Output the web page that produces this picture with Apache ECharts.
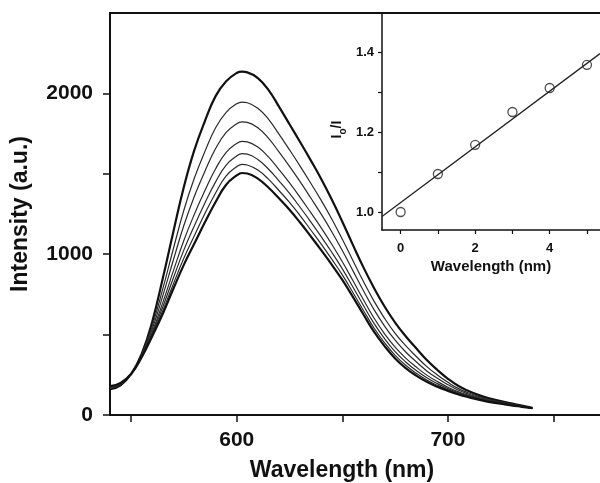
<!DOCTYPE html>
<html>
<head>
<meta charset="utf-8">
<script src="https://cdn.jsdelivr.net/npm/echarts@6/dist/echarts.min.js"></script>
<style>
html,body{margin:0;padding:0;background:#fff;}
#chart{width:600px;height:483px;}
</style>
</head>
<body>
<div id="chart"></div>
<script>
// Main spectra: wavelength (nm) and intensity (a.u.) for 7 curves
const wavelengths = [540,545,550,555,560,565,570,575,580,585,590,595,600,602.5,605,610,615,620,625,630,635,640,645,650,655,660,665,670,675,680,685,690,695,700,705,710,715,720,725,730,735,740];
const curve1 = [160,185,255,380,580,850,1140,1420,1650,1830,1983,2075,2127,2135,2131,2095,2022,1918,1808,1698,1585,1468,1340,1202,1058,918,790,675,575,490,415,342,280,225,180,148,122,102,86,72,58,44];
const curve2 = [166,190,255,374,553,784,1034,1275,1475,1641,1786,1882,1936,1946,1942,1908,1840,1747,1649,1548,1443,1335,1219,1093,961,830,708,601,508,431,364,301,249,203,164,137,114,95,81,68,56,43];
const curve3 = [170,192,255,370,535,741,964,1180,1362,1518,1657,1757,1812,1823,1820,1786,1722,1636,1546,1451,1351,1249,1140,1023,898,773,655,553,465,392,331,274,228,188,154,129,108,91,78,66,55,43];
const curve4 = [174,195,255,366,518,699,896,1087,1250,1397,1531,1633,1689,1702,1699,1666,1605,1526,1443,1354,1260,1164,1062,953,836,717,603,505,422,354,298,248,208,173,144,122,103,87,75,64,53,43];
const curve5 = [176,197,255,364,507,672,852,1027,1179,1320,1450,1554,1611,1625,1622,1589,1530,1456,1378,1292,1202,1109,1012,909,796,681,570,475,394,330,277,232,195,164,138,117,99,84,73,62,52,43];
const curve6 = [178,199,255,362,498,649,815,976,1117,1254,1381,1487,1544,1559,1555,1523,1467,1396,1322,1240,1152,1063,969,871,762,650,541,449,371,309,259,217,184,156,132,113,96,82,71,61,52,43];
const curve7 = [180,200,255,360,490,630,785,935,1068,1200,1325,1432,1490,1505,1502,1470,1415,1348,1277,1197,1112,1025,935,840,735,625,518,428,352,292,245,206,175,150,128,110,94,80,70,60,51,42];
const curveWidths = [2.2,1.2,1.2,1.2,1.2,1.2,2.2];

// Main axis ticks / labels
const mainXTicks = [550,600,650,700,750];
const mainXLabels = [600,700];
const mainYTicks = [0,500,1000,1500,2000];
const mainYLabels = [0,1000,2000];

// Inset: I0/I data and linear fit
const insetX = [0,1,2,3,4,5];
const insetY = [1.0,1.095,1.168,1.25,1.31,1.368];
const fitX = [-0.5,5.35];
const fitY = [0.989,1.396];
const insetXTicks = [0,1,2,3,4,5];
const insetXLabels = [0,2,4];
const insetYTicks = [1.0,1.1,1.2,1.3,1.4];
const insetYLabels = [1.0,1.2,1.4];

const FONT = "'Liberation Sans', Arial, sans-serif";
const INK = '#111';

const curves = [curve1,curve2,curve3,curve4,curve5,curve6,curve7];
const pairs = arr => wavelengths.map((w,i)=>[w,arr[i]]);

const series = curves.map((c,i)=>({
  type:'line', xAxisIndex:0, yAxisIndex:0, data:pairs(c),
  showSymbol:false, smooth:0.45,
  lineStyle:{color: i===0||i===6 ? '#111' : '#2a2a2a', width:curveWidths[i]},
  z:2
}));
series.push({
  type:'line', xAxisIndex:2, yAxisIndex:1,
  data: fitX.map((x,i)=>[x,fitY[i]]),
  showSymbol:false, lineStyle:{color:'#222', width:1.3}, z:3
});
series.push({
  type:'scatter', xAxisIndex:2, yAxisIndex:1,
  data: insetX.map((x,i)=>[x,insetY[i]]),
  symbol:'circle', symbolSize:9,
  itemStyle:{color:'rgba(255,255,255,0)', borderColor:'#222', borderWidth:1.3}, z:4
});

const option = {
  animation:false,
  backgroundColor:'#fff',
  grid:[
    {left:110, top:13, right:0, bottom:68, containLabel:false, outerBoundsMode:'none'},
    {left:382, top:13, right:0, bottom:253, containLabel:false, outerBoundsMode:'none'}
  ],
  xAxis:[
    {
      type:'value', gridIndex:0, min:540, max:772,
      axisLine:{show:true, lineStyle:{color:INK, width:2}},
      axisTick:{show:true, length:7, customValues:mainXTicks, lineStyle:{color:INK, width:1.5}},
      axisLabel:{customValues:mainXLabels, formatter:v=>String(v), fontFamily:FONT, fontWeight:'bold', fontSize:21, color:INK, margin:15},
      splitLine:{show:false},
      name:'Wavelength (nm)', nameLocation:'middle', nameGap:44,
      nameTextStyle:{fontFamily:FONT, fontWeight:'bold', fontSize:23, color:INK, padding:[0,26,0,0]}
    },
    {
      type:'value', gridIndex:0, position:'top', min:540, max:772,
      axisLine:{show:true, onZero:false, lineStyle:{color:INK, width:2}},
      axisTick:{show:false}, axisLabel:{show:false}, splitLine:{show:false}
    },
    {
      type:'value', gridIndex:1, min:-0.5, max:5.35,
      axisLine:{show:true, onZero:false, lineStyle:{color:INK, width:1.5}},
      axisTick:{show:true, length:4, customValues:insetXTicks, lineStyle:{color:INK, width:1.2}},
      axisLabel:{customValues:insetXLabels, formatter:v=>String(v), fontFamily:FONT, fontWeight:'bold', fontSize:13, color:INK, margin:12},
      splitLine:{show:false},
      name:'Wavelength (nm)', nameLocation:'middle', nameGap:29,
      nameTextStyle:{fontFamily:FONT, fontWeight:'bold', fontSize:15, color:INK}
    }
  ],
  yAxis:[
    {
      type:'value', gridIndex:0, min:0, max:2500,
      axisLine:{show:true, lineStyle:{color:INK, width:2}},
      axisTick:{show:true, length:7, customValues:mainYTicks, lineStyle:{color:INK, width:1.5}},
      axisLabel:{customValues:mainYLabels, formatter:v=>String(v), fontFamily:FONT, fontWeight:'bold', fontSize:21, color:INK, margin:17},
      splitLine:{show:false},
      name:'Intensity (a.u.)', nameLocation:'middle', nameGap:78,
      nameTextStyle:{fontFamily:FONT, fontWeight:'bold', fontSize:23, color:INK}
    },
    {
      type:'value', gridIndex:1, min:0.955, max:1.4975,
      axisLine:{show:true, onZero:false, lineStyle:{color:INK, width:1.5}},
      axisTick:{show:true, length:4, customValues:insetYTicks, lineStyle:{color:INK, width:1.2}},
      axisLabel:{customValues:insetYLabels, formatter:v=>Number(v).toFixed(1), fontFamily:FONT, fontWeight:'bold', fontSize:13, color:INK, margin:8},
      splitLine:{show:false},
      name:'{a|I}{b|o}{a|/I}', nameLocation:'middle', nameGap:34,
      nameTextStyle:{
        fontFamily:FONT, fontWeight:'bold', fontSize:14, color:INK, padding:[0,16,0,0],
        rich:{
          a:{fontFamily:FONT, fontWeight:'bold', fontSize:14, color:INK, lineHeight:18, verticalAlign:'top'},
          b:{fontFamily:FONT, fontWeight:'bold', fontSize:10, color:INK, lineHeight:18, verticalAlign:'bottom', padding:[6,0,0,0]}
        }
      }
    }
  ],
  series:series
};

const chart = echarts.init(document.getElementById('chart'), null, {renderer:'canvas'});
chart.setOption(option);
</script>
</body>
</html>
